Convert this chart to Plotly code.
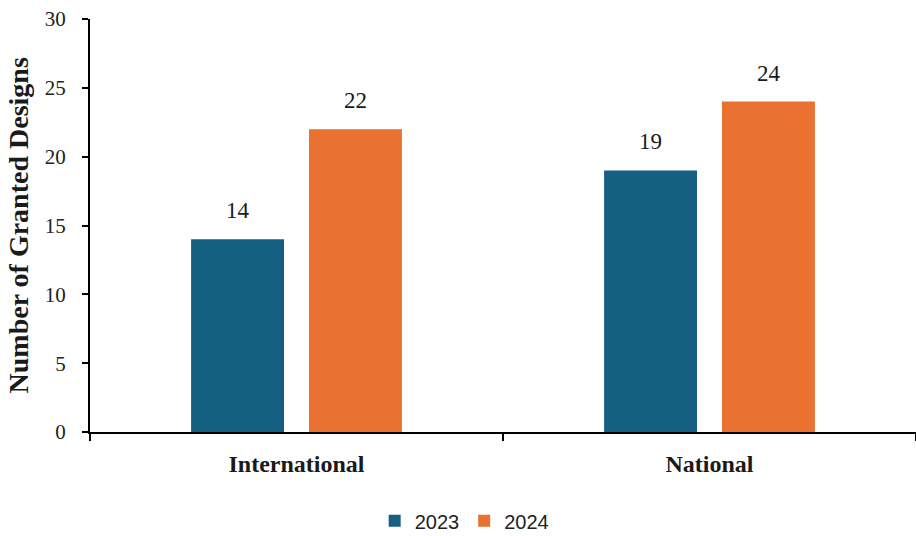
import plotly.graph_objects as go

categories = ["International", "National"]
series_names = ["2023", "2024"]
values_2023 = [14, 19]
values_2024 = [22, 24]
colors = ["#156082", "#E97132"]
y_ticks = [0, 5, 10, 15, 20, 25, 30]
y_title = "Number of Granted Designs"

SERIF = "Liberation Serif, Times New Roman, serif"
SANS = "Liberation Sans, Arial, sans-serif"

fig = go.Figure()
series_values = [values_2023, values_2024]
for name, vals, col in zip(series_names, series_values, colors):
    fig.add_trace(go.Bar(x=categories, y=vals, name=name, marker=dict(color=col, line=dict(width=0))))

# data labels above bars (bar slot offset in pixels)
slot_shift = [-59, 59]
for vals, sh in zip(series_values, slot_shift):
    for c, v in zip(categories, vals):
        fig.add_annotation(x=c, y=v, xref="x", yref="y", text=str(v), showarrow=False,
                           xshift=sh, yshift=14, yanchor="bottom",
                           font=dict(family=SERIF, size=23, color="#1a1a1a"))

fig.add_annotation(x=-0.086, y=0.5, xref="paper", yref="paper", text="<b>" + y_title + "</b>",
                   textangle=-90, showarrow=False, xanchor="center", yanchor="middle",
                   font=dict(family=SERIF, size=28, color="#1a1a1a"))

fig.update_layout(
    width=916, height=536,
    margin=dict(l=90, r=0, t=19, b=104, autoexpand=False),
    plot_bgcolor="white", paper_bgcolor="white",
    barmode="group", bargap=0.429, bargroupgap=0.212,
    showlegend=True,
    legend=dict(orientation="h", x=0.453, xanchor="center", y=-0.215, yanchor="middle",
                font=dict(family=SANS, size=20, color="#222"), itemwidth=30,
                traceorder="normal"),
    xaxis=dict(showline=True, linecolor="black", linewidth=2, ticks="outside",
               tickson="boundaries", ticklen=7, tickwidth=2, tickcolor="black",
               tickfont=dict(family=SERIF, size=24, color="#1a1a1a"),
               ticklabelstandoff=9, showgrid=False, zeroline=False, automargin=False,
               tickprefix="<b>", ticksuffix="</b>"),
    yaxis=dict(range=[0, 30], tickvals=y_ticks, showline=True, linecolor="black",
               linewidth=2, ticks="outside", ticklen=6, tickwidth=2, tickcolor="black",
               tickfont=dict(family=SERIF, size=21, color="#222"),
               ticklabelstandoff=12, showgrid=False, zeroline=False, automargin=False),
)

fig.write_html("out.html", config={"displayModeBar": False},
               post_script="document.body.style.margin='0px';")
